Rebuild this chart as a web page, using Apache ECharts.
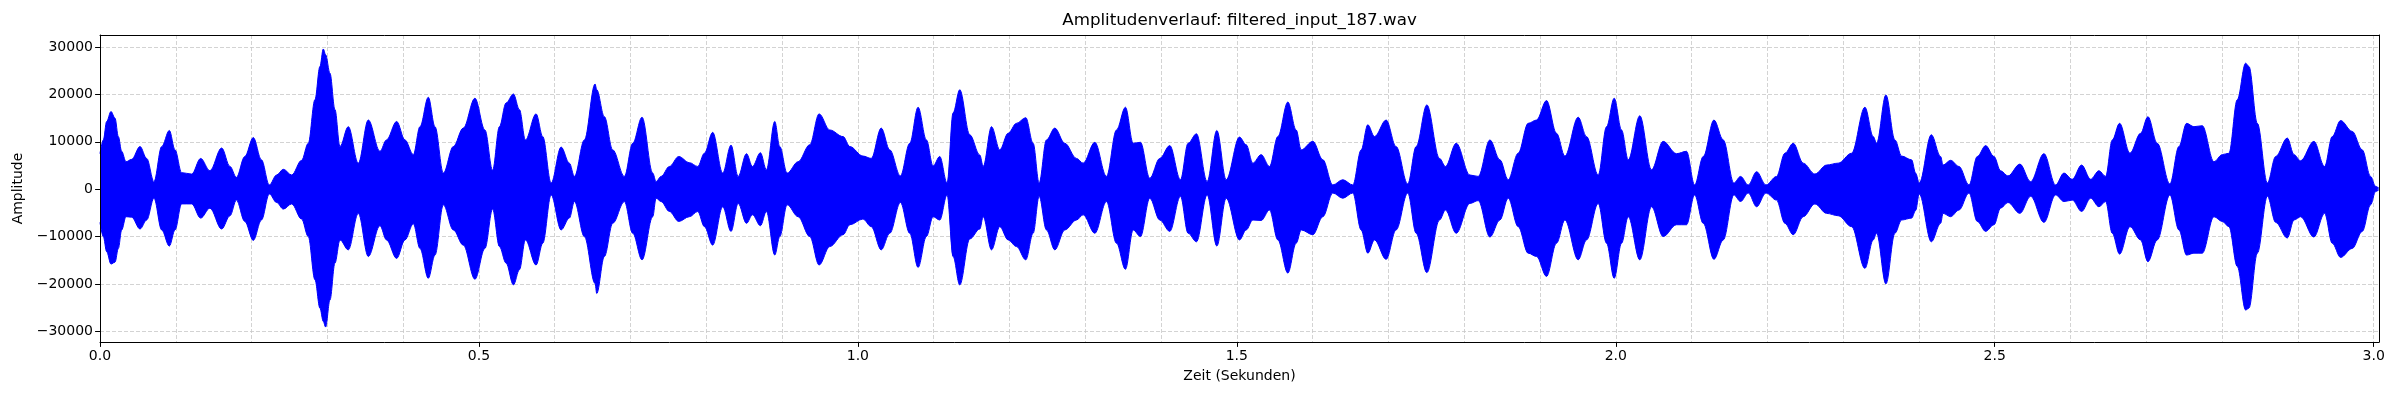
<!DOCTYPE html>
<html>
<head>
<meta charset="utf-8">
<title>Amplitudenverlauf</title>
<script src="https://cdn.jsdelivr.net/npm/echarts@6.0.0/dist/echarts.min.js"></script>
<style>
  html, body { margin: 0; padding: 0; background: #fff; }
  #chart { width: 2400px; height: 400px; }
</style>
</head>
<body>
<div id="chart"></div>
<script>
// Hüllkurve des Signals (oben / unten)
const times = [
  0.000, 0.0044, 0.0088, 0.0145, 0.0198, 0.0242, 0.0286, 0.0343, 0.0418, 0.0528,
  0.0616, 0.0712, 0.0814, 0.0915, 0.099, 0.1077, 0.121, 0.1328, 0.145, 0.1605,
  0.1715, 0.18, 0.191, 0.2023, 0.213, 0.2234, 0.233, 0.2419, 0.2529, 0.266,
  0.2748, 0.2836, 0.2902, 0.2946, 0.2977, 0.3034, 0.31, 0.3166, 0.3276, 0.3408,
  0.354, 0.3694, 0.378, 0.3914, 0.4024, 0.4134, 0.4222, 0.4332, 0.442, 0.453,
  0.4662, 0.4793, 0.4947, 0.5079, 0.518, 0.527, 0.5358, 0.5455, 0.5534, 0.5613,
  0.5754, 0.5842, 0.5952, 0.6084, 0.6193, 0.626, 0.6391, 0.6532, 0.6554, 0.6655,
  0.6765, 0.6919, 0.7029, 0.7152, 0.7293, 0.7337, 0.7403, 0.7513, 0.7636, 0.7777,
  0.7887, 0.7975, 0.8084, 0.8216, 0.8326, 0.842, 0.853, 0.8609, 0.8714, 0.8793,
  0.8903, 0.8969, 0.9066, 0.9211, 0.9365, 0.9488, 0.9629, 0.9805, 0.9894, 1.0066,
  1.0176, 1.0308, 1.042, 1.0561, 1.0684, 1.0794, 1.0904, 1.0992, 1.108, 1.1177,
  1.1256, 1.1344, 1.1476, 1.1609, 1.1653, 1.1763, 1.1872, 1.1982, 1.2092, 1.2215,
  1.2312, 1.2391, 1.2488, 1.2598, 1.273, 1.2884, 1.2972, 1.3126, 1.328, 1.3412,
  1.353, 1.3632, 1.3728, 1.3851, 1.3983, 1.4115, 1.4256, 1.4357, 1.4467, 1.4608,
  1.4736, 1.4859, 1.5035, 1.5123, 1.5211, 1.5321, 1.5431, 1.5541, 1.5673, 1.5783,
  1.5849, 1.6003, 1.6135, 1.6266, 1.6398, 1.653, 1.664, 1.6728, 1.6816, 1.697,
  1.7101, 1.7255, 1.7366, 1.7507, 1.7674, 1.7753, 1.7894, 1.8075, 1.8185, 1.8339,
  1.8471, 1.858, 1.8712, 1.8844, 1.8954, 1.9086, 1.9218, 1.9328, 1.9504, 1.9614,
  1.9768, 1.9878, 1.9979, 2.0076, 2.0164, 2.0317, 2.0471, 2.0625, 2.0801, 2.0933,
  2.104, 2.1154, 2.1295, 2.1418, 2.1558, 2.1646, 2.1748, 2.1858, 2.1981, 2.2121,
  2.2231, 2.2341, 2.2473, 2.2627, 2.2781, 2.2935, 2.3111, 2.3287, 2.3397, 2.3441,
  2.3564, 2.3683, 2.3771, 2.3903, 2.3956, 2.4004, 2.4163, 2.4286, 2.4318, 2.4418,
  2.4528, 2.466, 2.477, 2.488, 2.499, 2.5077, 2.5174, 2.5332, 2.5473, 2.5649,
  2.5803, 2.5913, 2.6023, 2.6146, 2.6265, 2.6375, 2.6463, 2.6551, 2.6647, 2.6784,
  2.6924, 2.7021, 2.7144, 2.7311, 2.743, 2.7531, 2.7628, 2.7738, 2.7892, 2.8002,
  2.809, 2.82, 2.831, 2.8354, 2.8465, 2.8597, 2.8707, 2.886, 2.8949, 2.9035,
  2.9211, 2.9352, 2.9453, 2.9563, 2.9717, 2.9849, 2.9959, 3.0025, 3.0069
];

const upperEnv = [
  7500, 10400, 14300, 16400, 15000, 11100, 8000, 5800, 6300, 9000,
  6500, 1600, 9000, 12400, 8300, 3500, 3200, 6500, 3900, 8700,
  4800, 2500, 6900, 10900, 6200, 900, 3000, 4200, 3000, 6100,
  9700, 18900, 25900, 29600, 28400, 24500, 16800, 9000, 13200, 5500,
  14600, 8000, 10400, 14300, 10400, 7300, 13200, 19400, 13200, 3400,
  9000, 12900, 19200, 12500, 4000, 13200, 18200, 20100, 16800, 10400,
  15900, 11100, 1300, 8900, 5500, 2700, 10400, 22200, 21000, 15300,
  8300, 2700, 9700, 15200, 3400, 1600, 2700, 4800, 6900, 5600,
  4800, 7600, 12000, 3400, 9300, 2700, 7500, 4800, 7700, 4100,
  14300, 9000, 3400, 5800, 9400, 15900, 12500, 11100, 9000, 7000,
  6500, 12900, 8300, 2800, 9700, 17300, 10400, 4900, 6900, 1300,
  16100, 21000, 11500, 7200, 4800, 13200, 8300, 11800, 13900, 15100,
  9700, 1300, 10400, 12900, 9700, 6500, 5500, 9900, 2700, 12500,
  17300, 9700, 9900, 2300, 6500, 9200, 2000, 9700, 11700, 1600,
  12400, 2000, 11000, 9400, 5500, 7300, 4800, 11100, 18400, 12500,
  8300, 10100, 6200, 900, 2000, 900, 8300, 13600, 11100, 14600,
  9000, 1100, 9000, 17800, 6500, 4800, 9700, 3000, 2700, 10400,
  6200, 2000, 7600, 13900, 14600, 18700, 11800, 7000, 15200, 11100,
  3000, 13200, 19200, 12500, 6200, 15500, 4100, 10100, 7500, 8000,
  900, 6900, 14600, 10400, 1300, 2700, 900, 3700, 900, 2700,
  7600, 9700, 5500, 3200, 5100, 5500, 7600, 17300, 11100, 9700,
  19900, 10400, 7000, 6200, 3400, 1300, 11500, 6900, 5100, 6100,
  4800, 900, 6900, 9200, 6900, 3900, 2800, 5300, 1600, 7500,
  900, 3400, 2100, 5100, 2100, 3900, 2700, 10400, 13900, 7600,
  11800, 15300, 9700, 1100, 9000, 13900, 13200, 13400, 5800, 7300,
  7600, 18900, 26600, 25900, 13900, 1300, 6900, 10800, 7300, 6000,
  10100, 4800, 11100, 14500, 12200, 8300, 2700, 600, 200
];

const lowerEnv = [
  -7000, -10000, -13200, -15800, -15400, -12500, -8600, -5800, -5900, -8400,
  -6500, -1900, -8600, -12000, -8600, -3100, -3100, -6100, -4000, -8400,
  -5600, -2300, -6800, -10800, -6500, -1000, -2800, -4200, -3100, -6300,
  -10000, -19100, -25100, -27900, -29100, -23400, -15600, -10700, -12800, -5100,
  -14200, -7700, -10700, -14600, -10700, -7300, -12500, -18800, -13900, -3300,
  -8600, -11800, -19000, -12500, -4200, -12100, -15600, -20200, -17000, -10700,
  -16000, -11400, -1200, -8600, -6100, -2600, -10000, -19900, -22000, -14200,
  -7200, -2600, -9300, -14900, -5800, -1900, -2600, -4700, -6800, -5800,
  -4700, -7900, -11800, -3700, -8900, -3000, -7200, -5400, -7700, -4700,
  -13900, -10000, -3300, -5800, -10000, -16000, -12100, -9600, -7500, -6300,
  -7900, -12800, -9300, -2800, -9300, -16500, -10000, -5800, -6500, -1200,
  -14200, -20200, -10500, -8400, -5800, -12800, -7900, -10700, -12100, -14900,
  -9300, -1500, -8600, -12800, -8600, -6500, -5400, -9300, -2600, -11400,
  -16900, -8600, -10000, -1900, -6500, -8900, -1500, -9300, -11100, -1200,
  -12000, -1900, -10700, -8600, -6500, -6600, -4400, -10700, -17700, -11400,
  -8600, -9600, -5800, -800, -1900, -800, -8600, -13500, -10700, -14800,
  -8600, -800, -9300, -17600, -6500, -4400, -9300, -3000, -2400, -10100,
  -6500, -1900, -7900, -13500, -14200, -18400, -11400, -6500, -14900, -10700,
  -3000, -11400, -18800, -11400, -5800, -14900, -3700, -10000, -7500, -7500,
  -1200, -7200, -14800, -10700, -1200, -2600, -800, -3700, -800, -2300,
  -7200, -9600, -5800, -3100, -5100, -5600, -7900, -16700, -10700, -9300,
  -20000, -9300, -6500, -6100, -4500, -1000, -11100, -7200, -5100, -5800,
  -4400, -800, -6800, -8900, -7500, -4000, -2800, -5100, -1500, -7000,
  -1200, -2600, -2300, -4700, -1900, -3700, -2600, -9300, -13700, -7900,
  -10700, -15300, -10700, -1200, -8600, -13900, -13500, -13500, -5800, -6800,
  -7900, -16300, -25500, -25100, -13500, -1500, -7000, -10300, -6500, -5800,
  -10100, -5100, -11400, -14400, -12500, -8900, -3300, -500, -100
];

const xTicks = [0, 0.5, 1.0, 1.5, 2.0, 2.5, 3.0];
const yTicks = [-30000, -20000, -10000, 0, 10000, 20000, 30000];

const X_MIN = 0, X_MAX = 3.007;
const Y_MIN = -32250, Y_MAX = 32550;

const font = 'DejaVu Sans';
const gridLine = { show: true, lineStyle: { color: '#c8c8c8', type: [4, 2], width: 0.8 } };

const chart = echarts.init(document.getElementById('chart'), null, { renderer: 'canvas' });

const upperData = times.map((t, i) => [t, upperEnv[i]]);
const lowerData = times.map((t, i) => [t, lowerEnv[i]]);

// die beiden Flächen überlappen leicht, damit bei 0 keine Naht bleibt
const waveSeries = (data, origin) => ({
  type: 'line',
  data: data,
  xAxisIndex: 0,
  yAxisIndex: 0,
  showSymbol: false,
  symbol: 'none',
  smooth: 0.35,
  smoothMonotone: 'x',
  lineStyle: { color: '#0000ff', width: 1 },
  areaStyle: { color: '#0000ff', opacity: 1, origin: origin },
  z: 3,
  silent: true
});

chart.setOption({
  animation: false,
  backgroundColor: '#ffffff',
  textStyle: { fontFamily: font },
  grid: { left: 100, right: 21, top: 35, bottom: 58, show: false, containLabel: false },
  graphic: [{
    type: 'text',
    x: 1239.5,
    y: 21,
    style: {
      text: 'Amplitudenverlauf: filtered_input_187.wav',
      font: '16.7px "DejaVu Sans"',
      fill: '#000',
      textAlign: 'center',
      textVerticalAlign: 'middle'
    }
  }],
  xAxis: [
    {
      // Gitter alle 0.1 s, kleine Striche
      type: 'value', min: X_MIN, max: X_MAX, interval: 0.1, position: 'bottom', z: 1,
      axisLine: { show: false },
      axisTick: { show: true, length: 2.8, lineStyle: { color: '#000', width: 0.8 } },
      axisLabel: { show: false },
      splitLine: gridLine
    },
    {
      type: 'value', min: X_MIN, max: X_MAX, interval: 0.5, position: 'bottom', z: 10,
      axisLine: { show: true, onZero: false, lineStyle: { color: '#000', width: 1 } },
      axisTick: { show: true, length: 4.9, customValues: xTicks, lineStyle: { color: '#000', width: 1 } },
      axisLabel: {
        show: true, margin: 7, fontSize: 14, color: '#000', fontFamily: font,
        customValues: xTicks,
        formatter: v => v.toFixed(1)
      },
      splitLine: { show: false },
      name: 'Zeit (Sekunden)',
      nameLocation: 'middle',
      nameGap: 27,
      nameTextStyle: { fontSize: 14, color: '#000', fontFamily: font }
    },
    {
      type: 'value', min: X_MIN, max: X_MAX, position: 'top', z: 10,
      axisLine: { show: true, onZero: false, lineStyle: { color: '#000', width: 1 } },
      axisTick: { show: false }, axisLabel: { show: false }, splitLine: { show: false }
    }
  ],
  yAxis: [
    {
      type: 'value', min: Y_MIN, max: Y_MAX, splitNumber: 6, position: 'left', z: 1,
      axisLine: { show: false }, axisTick: { show: false }, axisLabel: { show: false },
      splitLine: gridLine
    },
    {
      type: 'value', min: Y_MIN, max: Y_MAX, splitNumber: 6, position: 'left', z: 10,
      axisLine: { show: true, onZero: false, lineStyle: { color: '#000', width: 1 } },
      axisTick: { show: true, length: 4.9, customValues: yTicks, lineStyle: { color: '#000', width: 1 } },
      axisLabel: {
        show: true, margin: 7, fontSize: 14, color: '#000', fontFamily: font,
        customValues: yTicks,
        formatter: v => (v < 0 ? '\u2212' + (-v) : String(v))
      },
      splitLine: { show: false },
      name: 'Amplitude',
      nameLocation: 'middle',
      nameGap: 71,
      nameTextStyle: { fontSize: 14, color: '#000', fontFamily: font }
    },
    {
      type: 'value', min: Y_MIN, max: Y_MAX, position: 'right', z: 10,
      axisLine: { show: true, onZero: false, lineStyle: { color: '#000', width: 1 } },
      axisTick: { show: false }, axisLabel: { show: false }, splitLine: { show: false }
    }
  ],
  series: [waveSeries(upperData, -150), waveSeries(lowerData, 150)]
});
</script>
</body>
</html>
